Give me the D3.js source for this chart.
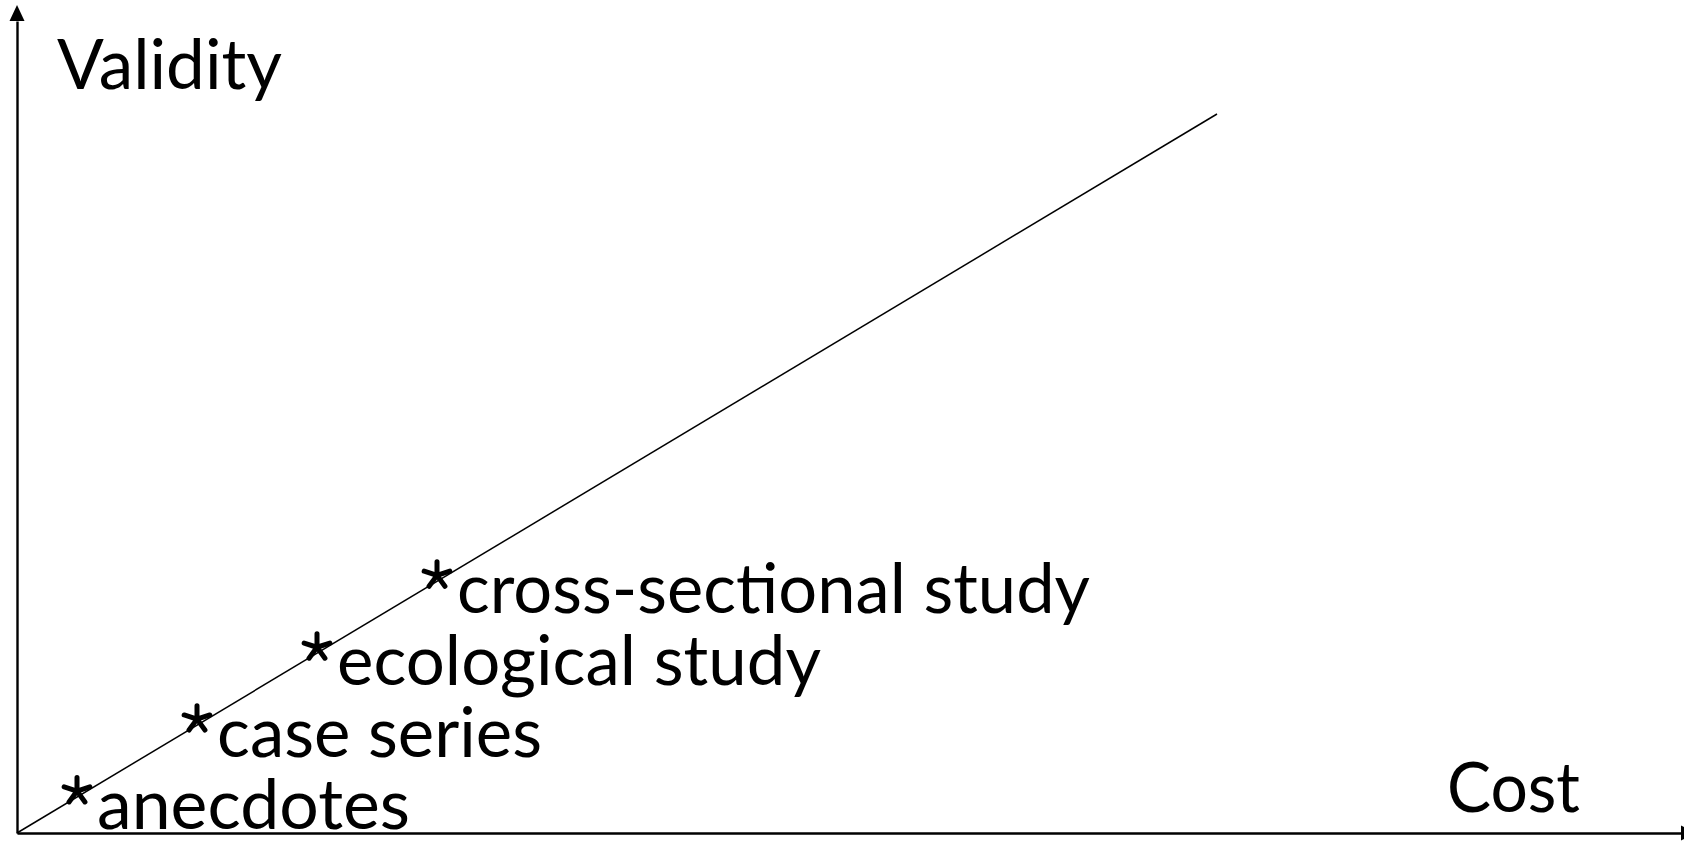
<!DOCTYPE html>
<html>
<head>
<meta charset="utf-8">
<script src="https://cdn.jsdelivr.net/npm/d3@7"></script>
<style>
  html, body { margin: 0; padding: 0; background: #fff; }
  svg { display: block; }
  text { font-family: Lato, "Open Sans", sans-serif; fill: #000; }
</style>
</head>
<body>
<svg id="chart" width="1684" height="846"></svg>
<script>
// ---- data ----
const studyLabels = ["anecdotes", "case series", "ecological study", "cross-sectional study"];
const studyCost = [1, 3, 5, 7];
const studyValidity = [1, 3, 5, 7];
const trendCost = [0, 20];
const trendValidity = [0, 20];
const xTitle = "Cost";
const yTitle = "Validity";

// ---- layout / style ----
const origin = { x: 17, y: 833 };
const fontSize = 70;
const labelWidths = { "anecdotes": 313, "case series": 325, "ecological study": 484, "cross-sectional study": 633 };
const titleLayout = {
  Validity: { x: 57, y: 89, w: 225 },
  Cost: { x: 1447, y: 812, w: 133 }
};

const svg = d3.select("#chart");

const x = d3.scaleLinear().domain([0, 20]).range([origin.x, 1217]);
const y = d3.scaleLinear().domain([0, 20]).range([origin.y, 114]);

// axes (no ticks) extend beyond data range
const xAxisEnd = 1681, yAxisEnd = 21;
const xAxisScale = x.copy().domain([0, x.invert(xAxisEnd)]).range([origin.x, xAxisEnd]);
const yAxisScale = y.copy().domain([0, y.invert(yAxisEnd)]).range([origin.y, yAxisEnd]);

const gx = svg.append("g").attr("transform", `translate(0,${origin.y})`)
  .call(d3.axisBottom(xAxisScale).tickValues([]).tickSizeOuter(0));
const gy = svg.append("g").attr("transform", `translate(${origin.x},0)`)
  .call(d3.axisLeft(yAxisScale).tickValues([]).tickSizeOuter(0));
[gx, gy].forEach(g => g.select(".domain").attr("stroke", "#000").attr("stroke-width", 2.4));

// arrowheads
svg.append("path")
  .attr("d", `M${origin.x},5 L${origin.x - 7.5},${yAxisEnd} L${origin.x + 7.5},${yAxisEnd} Z`)
  .attr("fill", "#000");
svg.append("path")
  .attr("d", `M${xAxisEnd + 14},${origin.y} L${xAxisEnd},${origin.y - 7.5} L${xAxisEnd},${origin.y + 7.5} Z`)
  .attr("fill", "#000");

// trend line
const lineData = trendCost.map((c, i) => [c, trendValidity[i]]);
svg.append("path")
  .datum(lineData)
  .attr("d", d3.line().x(d => x(d[0])).y(d => y(d[1])))
  .attr("fill", "none").attr("stroke", "#000").attr("stroke-width", 1.5);

// axis titles
[[yTitle, titleLayout.Validity], [xTitle, titleLayout.Cost]].forEach(([t, l]) => {
  svg.append("text").attr("x", l.x).attr("y", l.y)
    .attr("font-size", fontSize)
    .attr("textLength", l.w).attr("lengthAdjust", "spacingAndGlyphs")
    .text(t);
});

// five-armed asterisk symbol (size = radius^2)
const asterisk5 = {
  draw(ctx, size) {
    const r = Math.sqrt(size);
    for (let k = 0; k < 5; k++) {
      const a = -Math.PI / 2 + k * 2 * Math.PI / 5;
      ctx.moveTo(0, 0);
      ctx.lineTo(r * Math.cos(a), r * Math.sin(a));
    }
  }
};

// study points: star marker + label
const pts = studyLabels.map((lab, i) => ({ lab, c: studyCost[i], v: studyValidity[i] }));
const g = svg.append("g");
g.selectAll("path.star").data(pts).join("path")
  .attr("class", "star")
  .attr("transform", d => `translate(${x(d.c)},${y(d.v) - 6})`)
  .attr("d", d3.symbol().type(asterisk5).size(13.5 * 13.5))
  .attr("fill", "none").attr("stroke", "#000")
  .attr("stroke-width", 5).attr("stroke-linecap", "round");

g.selectAll("text.lab").data(pts).join("text")
  .attr("class", "lab")
  .attr("x", d => x(d.c) + 20).attr("y", d => y(d.v) + 32)
  .attr("font-size", fontSize)
  .attr("textLength", d => labelWidths[d.lab]).attr("lengthAdjust", "spacingAndGlyphs")
  .text(d => d.lab);
</script>
</body>
</html>
